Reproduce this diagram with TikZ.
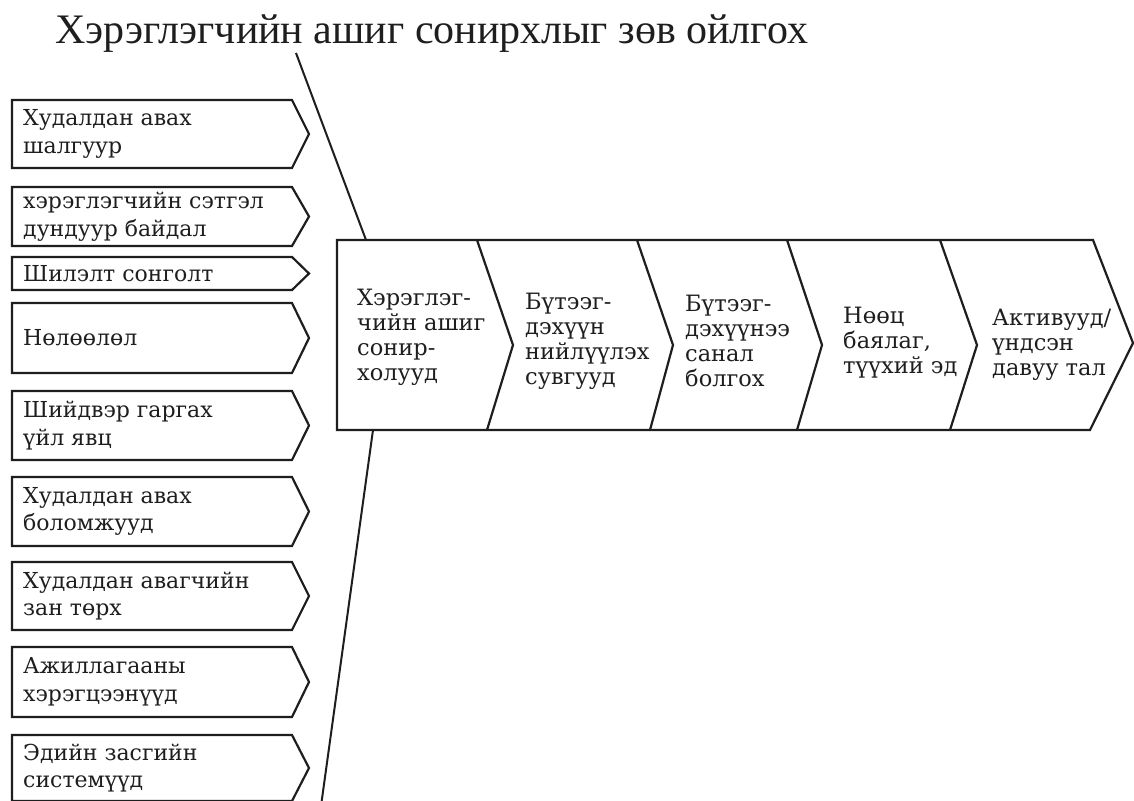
\documentclass[tikz,border=0pt]{standalone}
\usepackage{fontspec}
\setmainfont{DejaVu Serif}
\newfontfamily\titlefont{Liberation Serif}
\definecolor{ink}{HTML}{1E1E1E}
\tikzset{
  boxline/.style={draw=ink, line width=2.2pt, line join=miter, fill=white},
  divline/.style={draw=ink, line width=2.2pt},
  funnel/.style={draw=ink, line width=2pt},
  ltext/.style={anchor=west, align=left, inner sep=0pt, text=ink,
    font=\fontsize{22}{27.5}\selectfont},
  stext/.style={anchor=west, align=left, inner sep=0pt, text=ink,
    font=\fontsize{22.5}{25}\selectfont},
}
\newcommand\lbox[4]{%
  \draw[boxline] (12,#2) -- (292,#2) -- (309,{(#2+#3)/2}) -- (292,#3) -- (12,#3) -- cycle;
  \node[ltext] (#1) at (23,{(#2+#3)/2}) {#4};
}
\begin{document}
\begin{tikzpicture}[x=1pt,y=-1pt]
\fill[white] (0,0) rectangle (1134,800);
\clip (0,0) rectangle (1134,800);

% title
\node[anchor=base west, inner sep=0pt, text=ink,
  font=\titlefont\fontsize{42}{46}\selectfont] (title) at (55,44)
  {Хэрэглэгчийн ашиг сонирхлыг зөв ойлгох};

% funnel lines
\coordinate (ftop) at (296,53);
\coordinate (fa) at (366,240);
\coordinate (fb) at (373,430);
\coordinate (fbot) at (321,806);
\draw[funnel] (ftop) -- (fa);
\draw[funnel] (fb) -- (fbot);

% left boxes
\lbox{b1}{100}{168}{Худалдан авах\\шалгуур}
\lbox{b2}{187}{246}{хэрэглэгчийн сэтгэл\\дундуур байдал}
\lbox{b3}{257}{290}{Шилэлт сонголт}
\lbox{b4}{303}{373}{Нөлөөлөл}
\lbox{b5}{391}{460}{Шийдвэр гаргах\\үйл явц}
\lbox{b6}{477}{546}{Худалдан авах\\боломжууд}
\lbox{b7}{562}{630}{Худалдан авагчийн\\зан төрх}
\lbox{b8}{647}{717}{Ажиллагааны\\хэрэгцээнүүд}
\lbox{b9}{735}{801}{Эдийн засгийн\\системүүд}

% main strip
\draw[boxline] (337,240) -- (1093,240) -- (1133,343) -- (1090,430) -- (337,430) -- cycle;
\draw[divline] (477,240) -- (513,345) -- (487,430);
\draw[divline] (637,240) -- (673,345) -- (650,430);
\draw[divline] (787,240) -- (822,345) -- (797,430);
\draw[divline] (940,240) -- (977,345) -- (950,430);

\node[stext] (c1) at (357,337) {Хэрэглэг-\\чийн ашиг\\сонир-\\холууд};
\node[stext] (c2) at (525,341) {Бүтээг-\\дэхүүн\\нийлүүлэх\\сувгууд};
\node[stext] (c3) at (685,341) {Бүтээг-\\дэхүүнээ\\санал\\болгох};
\node[stext] (c4) at (843,343) {Нөөц\\баялаг,\\түүхий эд};
\node[stext] (c5) at (992,345) {Активууд/\\үндсэн\\давуу тал};
\end{tikzpicture}
\end{document}
